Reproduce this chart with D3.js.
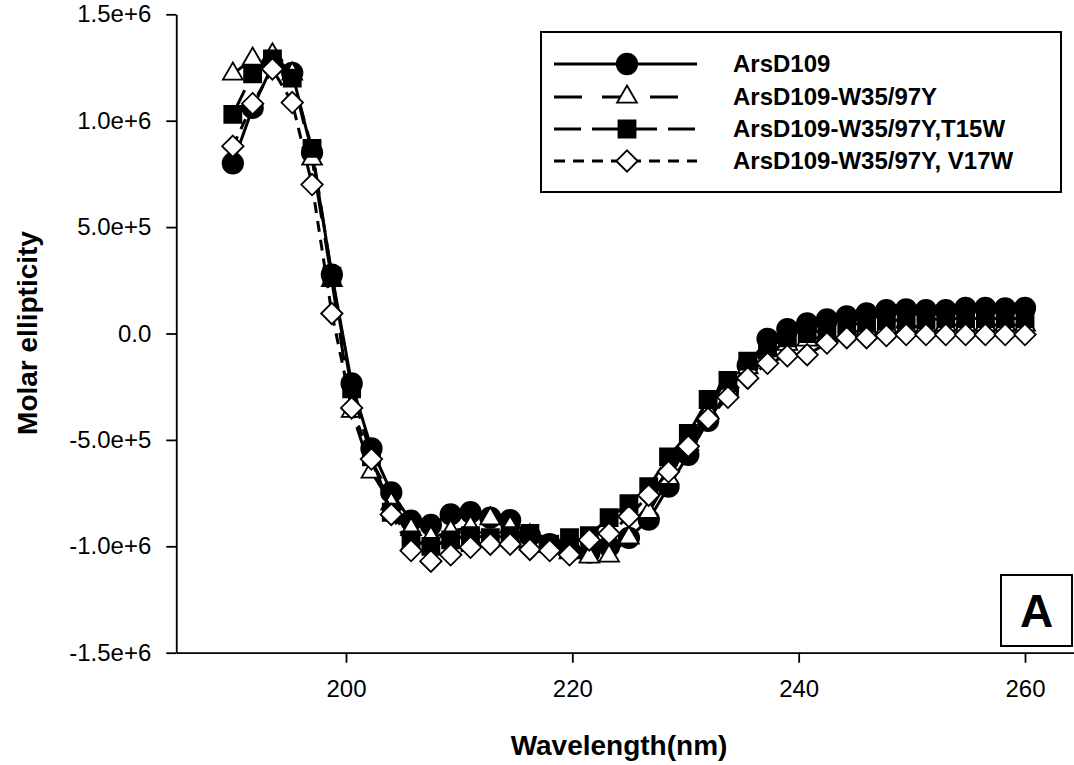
<!DOCTYPE html>
<html>
<head>
<meta charset="utf-8">
<script src="https://cdn.jsdelivr.net/npm/d3@7"></script>
<style>
  html, body { margin: 0; padding: 0; background: #fff; }
  svg { display: block; }
  text { font-family: Arial, "Liberation Sans", Helvetica, sans-serif; fill: #000; }
</style>
</head>
<body>
<svg id="chart" width="1074" height="765"></svg>
<script>
// CD spectra: wavelength (nm) vs molar ellipticity
const wavelengths = [190, 191.75, 193.5, 195.25, 197, 198.75, 200.5, 202.25, 204, 205.75,
  207.5, 209.25, 211, 212.75, 214.5, 216.25, 218, 219.75, 221.5, 223.25,
  225, 226.75, 228.5, 230.25, 232, 233.75, 235.5, 237.25, 239, 240.75,
  242.5, 244.25, 246, 247.75, 249.5, 251.25, 253, 254.75, 256.5, 258.25, 260];

const arsD109 = [800000, 1060000, 1260000, 1225000, 850000, 277000, -235000, -540000, -747000, -880000,
  -900000, -850000, -840000, -865000, -877000, -950000, -990000, -1020000, -1030000, -1000000,
  -960000, -875000, -720000, -570000, -410000, -270000, -150000, -25000, 20000, 47000,
  66000, 80000, 94000, 110000, 113000, 110000, 110000, 120000, 120000, 118000, 120000];

const arsD109W35 = [1220000, 1290000, 1310000, 1220000, 820000, 250000, -365000, -650000, -800000, -920000,
  -960000, -930000, -910000, -870000, -910000, -950000, -1000000, -1030000, -1050000, -1045000,
  -960000, -840000, -680000, -520000, -370000, -260000, -160000, -80000, -50000, -30000,
  -10000, 0, 20000, 30000, 30000, 35000, 40000, 40000, 40000, 40000, 40000];

const arsD109T15W = [1030000, 1220000, 1290000, 1200000, 870000, 270000, -260000, -580000, -840000, -970000,
  -1000000, -970000, -950000, -960000, -950000, -940000, -990000, -960000, -950000, -865000,
  -800000, -720000, -580000, -470000, -310000, -220000, -130000, -60000, -20000, 0,
  20000, 40000, 50000, 60000, 65000, 65000, 70000, 70000, 70000, 70000, 70000];

const arsD109V17W = [880000, 1080000, 1243000, 1085000, 700000, 94000, -350000, -590000, -850000, -1020000,
  -1070000, -1040000, -1005000, -990000, -990000, -1015000, -1020000, -1040000, -970000, -940000,
  -860000, -760000, -650000, -530000, -400000, -300000, -210000, -140000, -105000, -100000,
  -45000, -20000, -20000, -10000, -5000, -5000, -5000, -5000, -5000, -5000, -5000];

const seriesNames = ["ArsD109", "ArsD109-W35/97Y", "ArsD109-W35/97Y,T15W", "ArsD109-W35/97Y, V17W"];
const seriesValues = [arsD109, arsD109W35, arsD109T15W, arsD109V17W];

const xTicks = [200, 220, 240, 260];
const yTicks = [1500000, 1000000, 500000, 0, -500000, -1000000, -1500000];
const yTickLabels = ["1.5e+6", "1.0e+6", "5.0e+5", "0.0", "-5.0e+5", "-1.0e+6", "-1.5e+6"];

const xTitle = "Wavelength(nm)";
const yTitle = "Molar ellipticity";
const panelLabel = "A";

// line / marker styles per series
const dashes = [null, "28,20", "27,11", "11,8"];
const markerFill = ["#000", "#fff", "#000", "#fff"];

const diamond = {
  draw(ctx, size) {
    const r = Math.sqrt(size / 2);
    ctx.moveTo(0, -r); ctx.lineTo(r, 0); ctx.lineTo(0, r); ctx.lineTo(-r, 0); ctx.closePath();
  }
};
const symbols = [
  d3.symbol().type(d3.symbolCircle).size(330),
  d3.symbol().type(d3.symbolTriangle).size(170),
  d3.symbol().type(d3.symbolSquare).size(290),
  d3.symbol().type(diamond).size(230)
];

const svg = d3.select("#chart");
svg.append("rect").attr("width", 1074).attr("height", 765).attr("fill", "#fff");

const x = d3.scaleLinear().domain([200, 260]).range([346, 1025]);
const y = d3.scaleLinear().domain([-1500000, 1500000]).range([652.7, 14.3]);
const xAxisScale = x.copy().domain([185, 265]).range([x(185), x(265)]);

// axes
const xAxis = svg.append("g")
  .attr("transform", `translate(0,${y(-1500000)})`)
  .call(d3.axisBottom(xAxisScale).tickValues(xTicks).tickSize(10).tickSizeOuter(0).tickPadding(17));
const yAxis = svg.append("g")
  .attr("transform", `translate(${x(185)},0)`)
  .call(d3.axisLeft(y).tickValues(yTicks).tickSize(10).tickSizeOuter(0).tickPadding(15)
    .tickFormat((d, i) => yTickLabels[i]));
[xAxis, yAxis].forEach(g => {
  g.selectAll("path, line").attr("stroke", "#000").attr("stroke-width", 1.8);
  g.selectAll("text").attr("font-size", 24).attr("font-family", "Arial, 'Liberation Sans', sans-serif").attr("fill", "#000");
});

// axis titles
svg.append("text")
  .attr("x", 619).attr("y", 755)
  .attr("text-anchor", "middle")
  .attr("font-size", 28).attr("font-weight", "bold")
  .text(xTitle);
svg.append("text")
  .attr("transform", "translate(37,333) rotate(-90)")
  .attr("text-anchor", "middle")
  .attr("font-size", 28).attr("font-weight", "bold")
  .text(yTitle);

// series lines and markers
const line = d3.line().x((d, i) => x(wavelengths[i])).y(d => y(d));
seriesValues.forEach((vals, s) => {
  const g = svg.append("g");
  g.append("path")
    .attr("d", line(vals))
    .attr("fill", "none")
    .attr("stroke", "#000")
    .attr("stroke-width", 3)
    .attr("stroke-linejoin", "round")
    .attr("stroke-dasharray", dashes[s]);
  g.selectAll("path.pt")
    .data(vals)
    .join("path")
    .attr("class", "pt")
    .attr("transform", (d, i) => `translate(${x(wavelengths[i])},${y(d)})`)
    .attr("d", symbols[s]())
    .attr("fill", markerFill[s])
    .attr("stroke", "#000")
    .attr("stroke-width", 1.8);
});

// legend
const legend = svg.append("g");
legend.append("rect")
  .attr("x", 541).attr("y", 32).attr("width", 520).attr("height", 160)
  .attr("fill", "#fff").attr("stroke", "#000").attr("stroke-width", 2);
const legendRows = [64, 97, 129, 161];
seriesNames.forEach((name, s) => {
  const ly = legendRows[s];
  legend.append("line")
    .attr("x1", 554).attr("x2", 697).attr("y1", ly).attr("y2", ly)
    .attr("stroke", "#000").attr("stroke-width", 3)
    .attr("stroke-dasharray", dashes[s]);
  legend.append("path")
    .attr("transform", `translate(627,${ly})`)
    .attr("d", symbols[s]())
    .attr("fill", markerFill[s]).attr("stroke", "#000").attr("stroke-width", 1.8);
  legend.append("text")
    .attr("x", 733).attr("y", ly)
    .attr("dy", "0.35em")
    .attr("font-size", 24).attr("font-weight", "bold")
    .text(name);
});

// panel label
svg.append("rect")
  .attr("x", 1001).attr("y", 575).attr("width", 71).attr("height", 71)
  .attr("fill", "#fff").attr("stroke", "#000").attr("stroke-width", 2);
svg.append("text")
  .attr("x", 1036.5).attr("y", 610.5).attr("dy", "0.36em")
  .attr("text-anchor", "middle")
  .attr("font-size", 46).attr("font-weight", "bold")
  .text(panelLabel);
</script>
</body>
</html>
